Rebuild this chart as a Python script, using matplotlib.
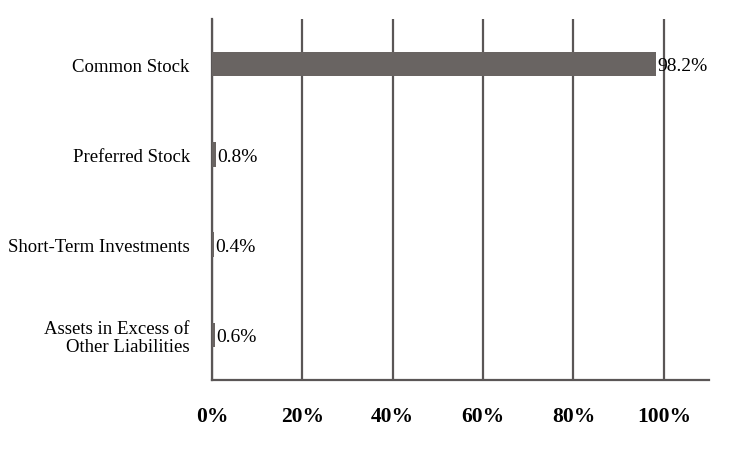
import matplotlib.pyplot as plt
import numpy as np

categories = ["Common Stock", "Preferred Stock", "Short-Term Investments",
              "Assets in Excess of\nOther Liabilities"]
values = [98.2, 0.8, 0.4, 0.6]
ticks = [0, 20, 40, 60, 80, 100]
tick_labels = ["0%", "20%", "40%", "60%", "80%", "100%"]

plt.rcParams['font.family'] = ['Liberation Serif', 'DejaVu Serif']

fig = plt.figure(figsize=(7.56, 4.56), dpi=100)
ax = fig.add_axes([0.2804, 0.1645, 0.6574, 0.7915])

bar_color = "#696462"
line_color = "#5a5656"
y = np.arange(len(categories))
bars = ax.barh(y, values, height=0.27, color=bar_color, zorder=3)

for b, v in zip(bars, values):
    ax.text(b.get_width() + 0.3, b.get_y() + b.get_height() / 2 + 0.02, f"{v}%",
            va="center", ha="left", fontsize=14, zorder=4)

ax.set_xlim(0, 110)
ax.set_ylim(len(categories) - 0.5, -0.5)
ax.set_yticks(y)
ax.set_yticklabels(categories, fontsize=13.5, linespacing=1.1)
ax.set_xticks(ticks)
ax.set_xticklabels(tick_labels, fontsize=15.5, fontweight="bold")
ax.tick_params(axis="both", length=0)
ax.tick_params(axis="x", pad=19)
ax.tick_params(axis="y", pad=16)

ax.grid(axis="x", color=line_color, linewidth=1.6, zorder=0)
for s in ["top", "right"]:
    ax.spines[s].set_visible(False)
ax.spines["left"].set_color(line_color)
ax.spines["left"].set_linewidth(1.6)
ax.spines["bottom"].set_color(line_color)
ax.spines["bottom"].set_linewidth(1.6)

fig.savefig("out.png", dpi=100)
